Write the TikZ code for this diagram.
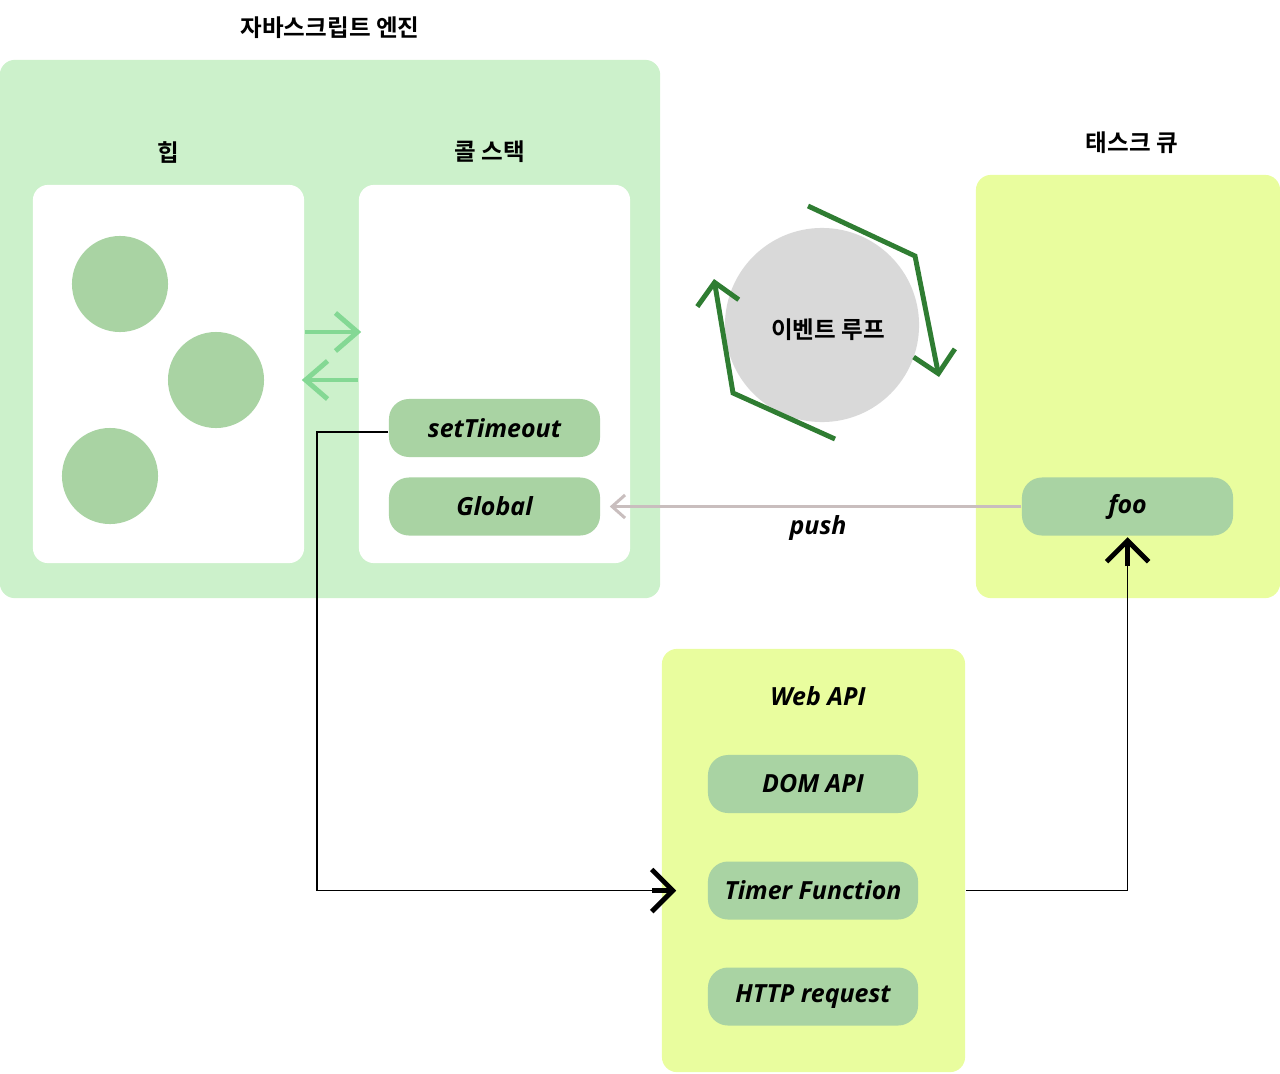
\documentclass[tikz,border=0pt]{standalone}
\usepackage{fontspec}
\setmainfont{Open Sans}[BoldItalicFont={Open Sans Bold Italic}]
\newfontfamily\kr{Noto Sans CJK KR}[BoldFont={Noto Sans CJK KR Bold}]
\usetikzlibrary{arrows.meta,calc}
\definecolor{engine}{HTML}{CCF1CB}
\definecolor{pillc}{HTML}{A9D3A3}
\definecolor{lime}{HTML}{E9FD9E}
\definecolor{loopg}{HTML}{D9D9D9}
\definecolor{dgreen}{HTML}{2F7D32}
\definecolor{lgreen}{HTML}{84D894}
\definecolor{pushc}{HTML}{C9BEBE}
\tikzset{
  krlabel/.style={font=\kr\bfseries\fontsize{6.7}{8}\selectfont, text=black, inner sep=0pt},
  enlabel/.style={font=\bfseries\itshape\fontsize{7.1}{8.5}\selectfont, text=black, inner sep=0pt},
  panel/.style={draw=none, rounded corners=4.3pt, inner sep=0pt},
  pill/.style={draw=none, fill=pillc, rounded corners=5.7pt, minimum width=2.11cm, minimum height=0.58cm, inner sep=0pt, font=\bfseries\itshape\fontsize{7.1}{8.5}\selectfont},
  blob/.style={circle, fill=pillc, minimum size=0.96cm, inner sep=0pt},
  blkarrow/.style={draw=black, line width=0.55pt, -{Straight Barb[length=0.21cm,width=0.42cm,line width=1.4pt]}},
  looparrow/.style={draw=dgreen, line width=1.4pt, line join=miter, -{Straight Barb[length=0.21cm,width=0.42cm]}},
  lgarrow/.style={draw=lgreen, line width=1.4pt, -{Straight Barb[length=0.22cm,width=0.38cm]}},
  pusharrow/.style={draw=pushc, line width=0.85pt, -{Straight Barb[length=0.13cm,width=0.23cm]}},
  shaft/.style={draw=black, line width=1.4pt},
}
\begin{document}
\begin{tikzpicture}[x=0.01cm,y=-0.01cm]
\useasboundingbox (0,0) rectangle (1280,1073);
% panels
\node[panel, fill=engine, minimum width=6.6cm, minimum height=5.38cm] (engine) at (330,329) {};
\node[panel, fill=white, minimum width=2.71cm, minimum height=3.78cm] (heap) at (168.5,374) {};
\node[panel, fill=white, minimum width=2.71cm, minimum height=3.78cm] (stack) at (494.5,374) {};
\node[panel, fill=lime, minimum width=3.04cm, minimum height=4.23cm] (queue) at (1128,386.5) {};
\node[panel, fill=lime, minimum width=3.03cm, minimum height=4.23cm] (webapi) at (813.5,860.5) {};
% titles
\node[krlabel] (t1) at (330,28) {자바스크립트 엔진};
\node[krlabel] (t2) at (168,152) {힙};
\node[krlabel] (t3) at (490,152) {콜 스택};
\node[krlabel] (t4) at (1132,143) {태스크 큐};
\node[enlabel] (t5) at (818,696) {Web API};
% heap blobs
\node[blob] (b1) at (120,284) {};
\node[blob] (b2) at (216,380) {};
\node[blob] (b3) at (110,476) {};
% pills
\node[pill] (st) at (494.5,428) {setTimeout};
\node[pill] (glob) at (494.5,506.5) {Global};
\node[pill] (foo) at (1127.5,506.5) {foo};
\node[pill, minimum width=2.1cm] (dom) at (813,784) {DOM API};
\node[pill, minimum width=2.1cm] (timer) at (813,890.5) {Timer Function};
\node[pill, minimum width=2.1cm] (http) at (813,996.5) {HTTP request};
% event loop
\node[circle, fill=loopg, minimum size=1.94cm, inner sep=0pt] (loop) at (822,325) {};
\node[krlabel] (looplabel) at (828,330) {이벤트 루프};
% event loop arrows
\coordinate (r0) at (808,206);
\coordinate (r1) at (915,256);
\coordinate (r2) at (939,377);
\coordinate (l0) at (835,439);
\coordinate (l1) at (733,393);
\coordinate (l2) at (714,279);
\draw[looparrow] (r0) -- (r1) -- (r2);
\draw[looparrow] (l0) -- (l1) -- (l2);
% heap <-> stack
\coordinate (y1) at (0,332);
\coordinate (y2) at (0,380);
\draw[lgarrow] (heap.east |- y1) -- ([xshift=0.03cm]stack.west |- y1);
\draw[lgarrow] (stack.west |- y2) -- ([xshift=-0.03cm]heap.east |- y2);
% push
\draw[pusharrow, shorten >=0.09cm] (foo.west) -- (glob.east);
\node[enlabel] (push) at (818,528) {push};
% setTimeout -> Timer Function
\coordinate (c1) at (317,600);
\draw[blkarrow] ([yshift=-0.04cm]st.west) -| (c1) |- ([xshift=-0.31cm]timer.west);
\draw[shaft] ([xshift=-0.55cm]timer.west) -- ([xshift=-0.35cm]timer.west);
% Timer Function -> foo
\draw[blkarrow] (webapi.east |- timer.east) -| ([yshift=-0.01cm]foo.south);
\draw[shaft] ([yshift=-0.3cm]foo.south) -- ([yshift=-0.05cm]foo.south);
\end{tikzpicture}
\end{document}
